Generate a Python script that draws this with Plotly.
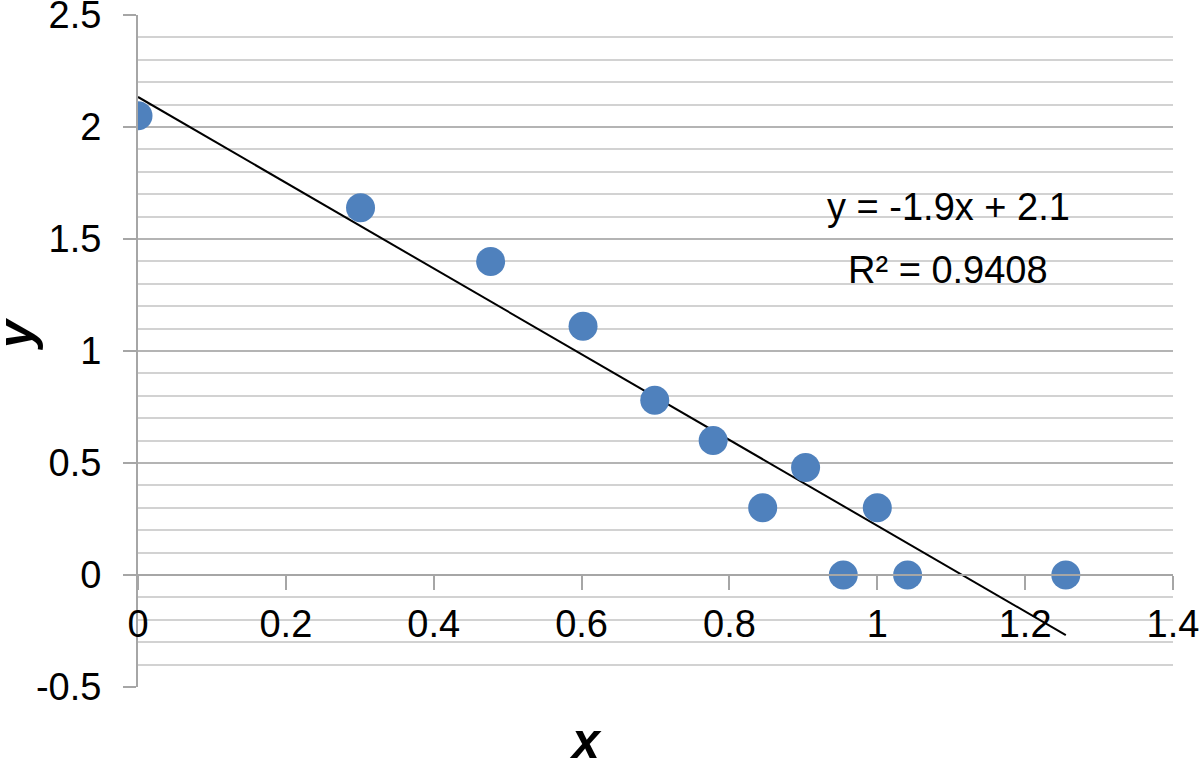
import numpy as np
import plotly.graph_objects as go

# Data
x_vals = [0.0, 0.301, 0.477, 0.602, 0.699, 0.778, 0.845, 0.903, 0.954, 1.0, 1.041, 1.255]
y_vals = [2.05, 1.64, 1.40, 1.11, 0.78, 0.60, 0.30, 0.48, 0.0, 0.30, 0.0, 0.0]
x_ticks = [0, 0.2, 0.4, 0.6, 0.8, 1.0, 1.2, 1.4]
x_tick_text = ["0", "0.2", "0.4", "0.6", "0.8", "1", "1.2", "1.4"]
y_ticks = [-0.5, 0, 0.5, 1, 1.5, 2, 2.5]
y_tick_text = ["-0.5", "0", "0.5", "1", "1.5", "2", "2.5"]
eq_text = "y = -1.9x + 2.1"
r2_text = "R² = 0.9408"

FONT = "Liberation Sans, Arial, sans-serif"
AXIS_GRAY = "#a6a6a6"
FS = 38

L, R, T, B = 138, 27, 15, 80
W, H = 1200, 767


def px_to_paper(px, py):
    return (px - L) / (W - L - R), (H - B - py) / (H - T - B)


slope, intercept = np.polyfit(x_vals, y_vals, 1)
fit_x = [min(x_vals), max(x_vals)]
fit_y = [slope * v + intercept for v in fit_x]

fig = go.Figure()
fig.add_trace(go.Scatter(
    x=fit_x, y=fit_y, mode="lines",
    line=dict(color="black", width=2), showlegend=False, hoverinfo="skip"))
fig.add_trace(go.Scatter(
    x=x_vals, y=y_vals, mode="markers",
    marker=dict(color="#4F81BD", size=29, line=dict(width=0)),
    showlegend=False))

eq_x, eq_y = px_to_paper(948, 207)
r2_x, r2_y = px_to_paper(948, 270)
xl_x, xl_y = px_to_paper(585, 741)
yl_x, yl_y = px_to_paper(16, 335)

fig.update_layout(
    width=W, height=H,
    margin=dict(l=L, r=R, t=T, b=B),
    paper_bgcolor="white", plot_bgcolor="white",
    font=dict(family=FONT, size=FS, color="black"),
    xaxis=dict(
        range=[0, 1.4], tickmode="array", tickvals=x_ticks, ticktext=x_tick_text,
        showgrid=False, zeroline=False, automargin=False,
        showline=True, linecolor=AXIS_GRAY, linewidth=2,
        ticks="outside", ticklen=14, tickwidth=2, tickcolor=AXIS_GRAY,
        anchor="free", position=1/6, ticklabelstandoff=1,
        ticklabeloverflow="allow",
        tickfont=dict(size=FS, family=FONT, color="black"),
    ),
    yaxis=dict(
        range=[-0.5, 2.5], tickmode="array", tickvals=y_ticks, ticktext=y_tick_text,
        showgrid=True, gridcolor="#b4b4b4", gridwidth=2,
        zeroline=False, automargin=False,
        showline=True, linecolor=AXIS_GRAY, linewidth=2,
        ticks="outside", ticklen=13, tickwidth=2, tickcolor=AXIS_GRAY,
        ticklabelstandoff=14, ticklabeloverflow="allow",
        tickfont=dict(size=FS, family=FONT, color="black"),
        minor=dict(dtick=0.1, showgrid=True, gridcolor="#d2d2d2", gridwidth=2, ticks=""),
    ),
    annotations=[
        dict(text=eq_text, x=eq_x, y=eq_y, xref="paper", yref="paper",
             xanchor="center", yanchor="middle",
             showarrow=False, font=dict(size=FS, family=FONT, color="black")),
        dict(text=r2_text, x=r2_x, y=r2_y, xref="paper", yref="paper",
             xanchor="center", yanchor="middle",
             showarrow=False, font=dict(size=FS, family=FONT, color="black")),
        dict(text="<b><i>x</i></b>", x=xl_x, y=xl_y, xref="paper", yref="paper",
             xanchor="center", yanchor="middle",
             showarrow=False, font=dict(size=50, family=FONT, color="black")),
        dict(text="<b><i>y</i></b>", x=yl_x, y=yl_y, xref="paper", yref="paper",
             xanchor="center", yanchor="middle", textangle=-90,
             showarrow=False, font=dict(size=50, family=FONT, color="black")),
    ],
)

fig.write_html(
    "out.html",
    config={"displayModeBar": False},
    post_script="document.body.style.margin='0';document.body.style.overflow='hidden';",
)
